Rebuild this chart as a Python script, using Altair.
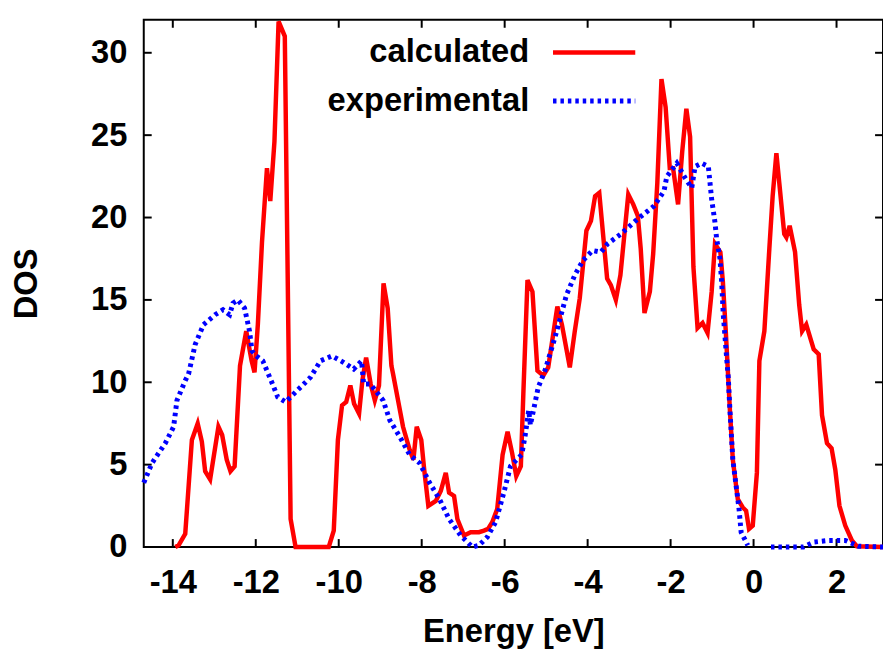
import altair as alt
import pandas as pd

# ---------------- data ----------------
calc_x = [-13.94, -13.86, -13.70, -13.54, -13.40, -13.30, -13.22, -13.10, -12.90, -12.81,
          -12.70, -12.61, -12.51, -12.38, -12.23, -12.10, -12.03, -11.95, -11.85, -11.73,
          -11.65, -11.55, -11.45, -11.30, -11.16, -11.04, -10.24, -10.12, -10.02, -9.92,
          -9.82, -9.72, -9.63, -9.51, -9.43, -9.34, -9.23, -9.13, -9.03, -8.92,
          -8.82, -8.73, -8.69, -8.57, -8.45, -8.29, -8.20, -8.12, -8.01, -7.94,
          -7.84, -7.66, -7.54, -7.42, -7.34, -7.22, -7.14, -6.98, -6.82, -6.62,
          -6.50, -6.40, -6.30, -6.18, -6.05, -5.93, -5.82, -5.72, -5.61, -5.55,
          -5.45, -5.33, -5.21, -5.07, -4.95, -4.73, -4.62, -4.43, -4.31, -4.19,
          -4.03, -3.92, -3.82, -3.72, -3.53, -3.44, -3.32, -3.21, -3.02, -2.90,
          -2.79, -2.72, -2.63, -2.50, -2.42, -2.32, -2.22, -2.12, -2.02, -1.94,
          -1.82, -1.72, -1.62, -1.53, -1.45, -1.35, -1.23, -1.11, -1.01, -0.93,
          -0.80, -0.74, -0.67, -0.57, -0.50, -0.38, -0.26, -0.18, -0.11, -0.02,
          0.08, 0.14, 0.26, 0.38, 0.46, 0.55, 0.62, 0.74, 0.79, 0.87,
          1.00, 1.10, 1.17, 1.27, 1.45, 1.57, 1.65, 1.77, 1.88, 1.97,
          2.07, 2.21, 2.37, 2.49, 3.12]
calc_y = [0.0, 0.1, 0.8, 6.5, 7.5, 6.4, 4.6, 4.1, 7.3, 6.8,
          5.3, 4.6, 4.9, 11.0, 13.1, 11.3, 10.6, 13.5, 18.5, 23.0,
          21.0, 24.6, 31.9, 31.0, 1.7, 0.0, 0.0, 1.0, 6.5, 8.6,
          8.8, 9.8, 8.7, 8.1, 10.1, 11.5, 9.9, 8.9, 9.8, 16.0,
          14.5, 11.0, 10.5, 8.9, 7.3, 5.9, 5.3, 7.3, 6.5, 4.7,
          2.5, 2.8, 3.4, 4.5, 3.3, 3.1, 1.7, 0.7, 0.9, 0.9,
          1.0, 1.1, 1.5, 2.3, 5.6, 7.0, 5.7, 4.3, 4.9, 9.3,
          16.2, 15.5, 10.7, 10.4, 10.9, 14.6, 13.5, 10.9, 13.1, 15.1,
          19.2, 19.8, 21.3, 21.5, 16.3, 15.9, 15.0, 16.5, 21.4, 20.8,
          20.1, 18.1, 14.2, 15.5, 17.8, 22.1, 28.4, 26.7, 23.0, 23.0,
          20.8, 24.0, 26.6, 24.9, 17.0, 13.3, 13.6, 13.0, 15.5, 18.4,
          17.9, 16.1, 13.1, 8.3, 5.3, 2.9, 2.4, 2.2, 1.1, 1.3,
          4.5, 11.3, 13.1, 18.1, 21.3, 23.9, 22.1, 19.0, 18.8, 19.5,
          17.9, 14.7, 13.1, 13.5, 12.0, 11.7, 8.0, 6.3, 6.0, 4.7,
          2.5, 1.3, 0.4, 0.05, 0.0]

exp_x = [-14.70, -14.50, -14.18, -13.98, -13.90, -13.70, -13.62, -13.46, -13.26, -12.98,
         -12.79, -12.63, -12.55, -12.43, -12.27, -12.15, -12.09, -11.99, -11.83, -11.63,
         -11.47, -11.28, -11.00, -10.68, -10.44, -10.16, -9.88, -9.64, -9.45, -9.40,
         -9.24, -8.93, -8.77, -8.53, -8.29, -8.05, -7.81, -7.57, -7.34, -7.06,
         -6.78, -6.62, -6.42, -6.22, -6.02, -5.86, -5.71, -5.59, -5.51, -5.42,
         -5.38, -5.19, -5.03, -4.79, -4.51, -4.31, -4.11, -3.88, -3.68, -3.52,
         -3.20, -2.80, -2.40, -2.16, -2.09, -1.85, -1.65, -1.49, -1.41, -1.25,
         -1.09, -1.01, -0.93, -0.89, -0.81, -0.77, -0.73, -0.65, -0.61, -0.57,
         -0.50, -0.42, -0.35, -0.30, -0.14,
         0.42, 1.20, 1.45, 1.81, 2.21, 2.53, 3.12]
exp_y = [3.9, 5.1, 6.3, 7.3, 8.9, 10.1, 10.5, 12.3, 13.5, 14.1,
         14.4, 14.1, 14.8, 15.0, 14.5, 13.1, 11.9, 11.6, 11.3, 10.1,
         9.1, 8.8, 9.5, 10.3, 11.3, 11.6, 11.2, 10.8, 11.3, 9.9,
         9.9, 8.9, 7.7, 6.7, 5.6, 5.1, 3.9, 2.9, 1.7, 0.7,
         0.0, 0.1, 0.6, 1.5, 3.3, 4.9, 5.3, 5.6, 6.7, 8.3,
         7.4, 9.7, 10.7, 12.7, 15.3, 16.5, 17.4, 18.0, 17.9, 18.4,
         19.0, 19.9, 20.7, 21.6, 22.5, 23.3, 22.4, 21.8, 23.1, 23.3,
         23.1, 21.1, 19.7, 18.7, 17.5, 16.1, 14.1, 11.5, 10.3, 8.3,
         5.3, 3.7, 2.3, 0.9, 0.1,
         0.0, 0.0, 0.3, 0.4, 0.4, 0.05, 0.0]
exp_seg = [1] * 85 + [2] * 7

x_ticks = [-14, -12, -10, -8, -6, -4, -2, 0, 2]
y_ticks = [0, 5, 10, 15, 20, 25, 30]
series_names = ["calculated", "experimental"]
series_colors = ["#ff0000", "#0000ff"]

# ---------------- layout ----------------
W, H = 746, 532
FONT = "Liberation Sans"
FS = 33
TICK = 8

calc = pd.DataFrame({"x": calc_x, "y": calc_y})
exp = pd.DataFrame({"x": exp_x, "y": exp_y, "seg": exp_seg})
xt = pd.DataFrame({"x": x_ticks})
yt = pd.DataFrame({"y": y_ticks})

xscale = alt.Scale(domain=[-14.7, 3.12], nice=False, zero=False)
yscale = alt.Scale(domain=[0, 32], nice=False, zero=False)

xaxis = alt.Axis(values=x_ticks, title="Energy [eV]", labelExpr="'' + datum.value",
                 labelPadding=46, labelBaseline="alphabetic", labelFlush=False,
                 labelOverlap=False, titleX=W / 2, titleY=95, titleAlign="center",
                 titleBaseline="alphabetic")
yaxis = alt.Axis(values=y_ticks, title="DOS", labelExpr="'' + datum.value",
                 labelPadding=17, labelBaseline="middle", labelFlush=False,
                 labelOverlap=False, titleAngle=270, titleX=-108, titleY=H / 2,
                 titleAlign="center", titleBaseline="alphabetic")

X = alt.X("x:Q", scale=xscale, axis=xaxis)
Y = alt.Y("y:Q", scale=yscale, axis=yaxis)

red = alt.Chart(calc).mark_line(color=series_colors[0], strokeWidth=4.5,
                                strokeJoin="miter").encode(x=X, y=Y)
blue = alt.Chart(exp).mark_line(color=series_colors[1], strokeWidth=5,
                                strokeDash=[3.5, 4], strokeCap="butt").encode(
    x=X, y=Y, detail="seg:N")

tick_style = dict(color="black", strokeWidth=2)
xt_bottom = alt.Chart(xt).mark_rule(**tick_style).encode(
    x=X, y=alt.value(H), y2=alt.value(H - TICK))
xt_top = alt.Chart(xt).mark_rule(**tick_style).encode(
    x=X, y=alt.value(0), y2=alt.value(TICK))
yt_left = alt.Chart(yt).mark_rule(**tick_style).encode(
    y=Y, x=alt.value(0), x2=alt.value(TICK))
yt_right = alt.Chart(yt).mark_rule(**tick_style).encode(
    y=Y, x=alt.value(W - TICK), x2=alt.value(W))

leg_df1 = pd.DataFrame({"label": [series_names[0]]})
leg_df2 = pd.DataFrame({"label": [series_names[1]]})
text_style = dict(align="right", baseline="middle", font=FONT, fontSize=FS,
                  fontWeight="bold", color="black")
LX = 389
leg_t1 = alt.Chart(leg_df1).mark_text(**text_style).encode(
    text="label:N", x=alt.value(LX), y=alt.value(33))
leg_t2 = alt.Chart(leg_df2).mark_text(**text_style).encode(
    text="label:N", x=alt.value(LX), y=alt.value(82))
leg_l1 = alt.Chart(leg_df1).mark_rule(color=series_colors[0], strokeWidth=4.5).encode(
    x=alt.value(LX + 24), x2=alt.value(LX + 107), y=alt.value(33))
leg_l2 = alt.Chart(leg_df2).mark_rule(color=series_colors[1], strokeWidth=5,
                                      strokeDash=[3.5, 4], strokeCap="butt").encode(
    x=alt.value(LX + 24), x2=alt.value(LX + 107), y=alt.value(82))

chart = alt.layer(
    xt_bottom, xt_top, yt_left, yt_right, red, blue, leg_t1, leg_l1, leg_t2, leg_l2
).properties(
    width=W, height=H,
    autosize=alt.AutoSizeParams(type="none"),
    padding={"left": 137, "top": 9, "right": 0, "bottom": 103},
    background="white",
).configure_view(
    stroke="black", strokeWidth=2
).configure_axis(
    labelFont=FONT, labelFontSize=FS, labelFontWeight="bold", labelColor="black",
    titleFont=FONT, titleFontSize=FS, titleFontWeight="bold", titleColor="black",
    ticks=False, tickSize=0, domain=False, grid=False
)

chart.save("out.html", embed_options={"renderer": "svg", "actions": False})
